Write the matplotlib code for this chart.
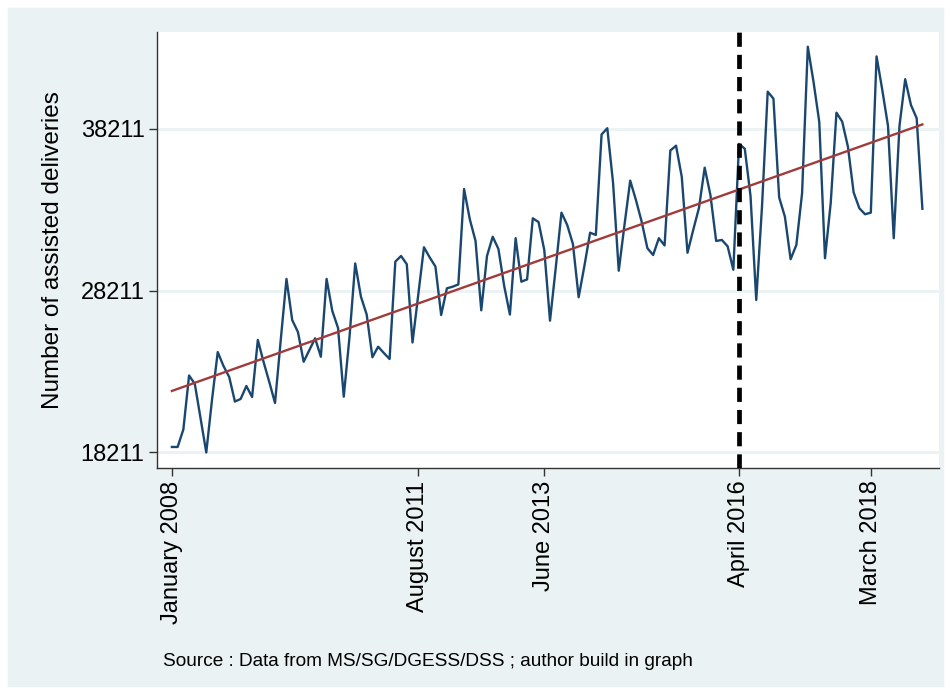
import numpy as np
import pandas as pd
import matplotlib
matplotlib.use("Agg")
import matplotlib.pyplot as plt
from matplotlib.patches import Rectangle

BG_COLOR = "#eaf2f3"
LINE_COLOR = "#1a476f"
TREND_COLOR = "#a03b3c"

# monthly assisted deliveries, January 2008 - December 2018
deliveries = [
    18540, 18540, 19620, 22960, 22440, 20330, 18200, 21450, 24410, 23550, 22870, 21350,
    21510, 22310, 21630, 25160, 23800, 22560, 21260, 25160, 28930, 26390, 25650, 23810,
    24540, 25260, 24120, 28930, 26950, 25900, 21650, 25340, 29890, 27830, 26730, 24090,
    24740, 24350, 23980, 30000, 30350, 29840, 25000, 27940, 30890, 30260, 29700, 26700,
    28350, 28450, 28590, 34490, 32620, 31280, 26990, 30350, 31540, 30780, 28500, 26730,
    31450, 28760, 28900, 32680, 32450, 30720, 26350, 29610, 33030, 32270, 31090, 27800,
    29730, 31790, 31650, 37860, 38250, 34900, 29440, 32270, 35010, 33810, 32470, 30830,
    30410, 31450, 31000, 36870, 37170, 35240, 30550, 31960, 33320, 35810, 34120, 31280,
    31340, 30950, 29500, 37280, 36980, 34060, 27630, 33380, 40510, 40080, 33970, 32780,
    30150, 31030, 34230, 43290, 41110, 38640, 30210, 33630, 39210, 38660, 37110, 34280,
    33300, 32930, 33030, 42690, 40620, 38390, 31450, 38390, 41280, 39690, 38870, 33270,
]

tick_dates = ["2008-01", "2011-08", "2013-06", "2016-04", "2018-03"]
tick_labels = ["January 2008", "August 2011", "June 2013", "April 2016", "March 2018"]
y_ticks = [18211, 28211, 38211]
break_date = "2016-04"

plt.rcParams["font.family"] = ["Liberation Sans", "DejaVu Sans"]

months = pd.date_range("2008-01-01", periods=len(deliveries), freq="MS")
x = np.arange(len(deliveries))
tick_pos = [months.get_loc(pd.Timestamp(d)) for d in tick_dates]
break_pos = months.get_loc(pd.Timestamp(break_date))

# linear trend over the whole period
slope, intercept = np.polyfit(x, deliveries, 1)
trend = intercept + slope * x

fig = plt.figure(figsize=(9.51, 6.94), dpi=100, facecolor="white")
fig.patches.append(Rectangle((8 / 951, 8 / 694), 935 / 951, 678 / 694,
                             transform=fig.transFigure, color=BG_COLOR, zorder=-10))

ax = fig.add_axes([157 / 951, 1 - 468 / 694, (939 - 157) / 951, (468 - 32) / 694])
ax.set_facecolor("white")

ax.plot(x, deliveries, color=LINE_COLOR, linewidth=1.7, zorder=3)
ax.plot(x, trend, color=TREND_COLOR, linewidth=1.7, zorder=4)
ax.axvline(break_pos, color="black", linewidth=3.4, linestyle=(0, (3.0, 1.7)), zorder=5)

ax.set_xlim(-2.6, 133.9)
ax.set_ylim(17240, 44200)

ax.set_yticks(y_ticks)
ax.set_yticklabels([str(v) for v in y_ticks])
ax.set_xticks(tick_pos)
ax.set_xticklabels(tick_labels, rotation=90, ha="center", va="top")
ax.grid(axis="y", color=BG_COLOR, linewidth=2)
ax.set_axisbelow(True)

for side in ("top", "right"):
    ax.spines[side].set_visible(False)
for side in ("left", "bottom"):
    ax.spines[side].set_color("#333333")
    ax.spines[side].set_linewidth(1.0)

ax.tick_params(axis="both", direction="out", length=6, width=1, color="#333333",
               labelsize=17, pad=3)

ax.set_ylabel("Number of assisted deliveries", fontsize=17.5, labelpad=12)

fig.text(163 / 951, 1 - 661 / 694, "Source : Data from MS/SG/DGESS/DSS ; author build in graph",
         fontsize=13.7, ha="left", va="center")

fig.savefig("out.png", dpi=100, facecolor=fig.get_facecolor())
